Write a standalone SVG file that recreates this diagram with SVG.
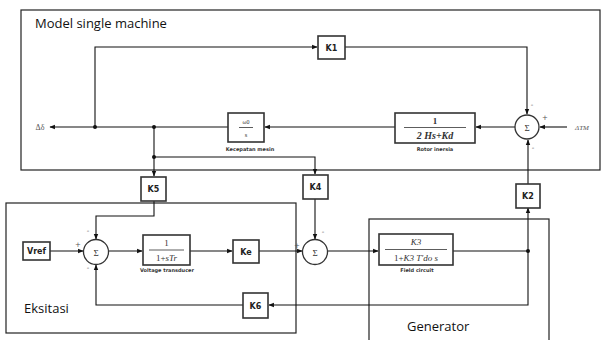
<svg xmlns="http://www.w3.org/2000/svg" width="603" height="340" viewBox="0 0 603 340">
<style>
.frame{fill:none;stroke:#222;stroke-width:1.2}
.blk{fill:#fff;stroke:#333;stroke-width:1.6}
.sum{fill:#fff;stroke:#333;stroke-width:1.3}
.ln{fill:none;stroke:#111;stroke-width:1.1}
.k{font-family:"DejaVu Sans",sans-serif;font-weight:bold;font-size:8px;fill:#222;text-anchor:middle}
.big{font-family:"Open Sans",sans-serif;font-size:13px;fill:#111}
.cap{font-family:"DejaVu Sans",sans-serif;font-weight:bold;font-size:5px;fill:#333;text-anchor:middle}
.math{font-family:"Liberation Serif",serif;font-style:italic;font-size:9px;fill:#333;text-anchor:middle}
.num{font-family:"Liberation Serif",serif;font-size:9px;fill:#333;text-anchor:middle}
.sig{font-family:"DejaVu Sans",sans-serif;font-size:7px;fill:#555;text-anchor:middle}
.fr{stroke:#333;stroke-width:0.8}
.dot{fill:#111}
</style>
<defs>
<marker id="ah" viewBox="0 0 10 10" refX="9" refY="5" markerWidth="5" markerHeight="5" orient="auto">
<path d="M0,1 L10,5 L0,9 z" fill="#111"/>
</marker>
</defs>

<g id="frame-model">
<rect class="frame" x="21" y="10" width="579" height="160"/>
<text class="big" x="35" y="28">Model single machine</text>
</g>
<g id="frame-eksitasi">
<rect class="frame" x="6" y="203" width="290" height="130"/>
<text class="big" x="24" y="313">Eksitasi</text>
</g>
<g id="frame-generator">
<rect class="frame" x="369" y="219" width="180" height="125"/>
<text class="big" x="407" y="331">Generator</text>
</g>

<g id="connectors">
<path class="ln" d="M395,127 H265" marker-end="url(#ah)"/>
<path class="ln" d="M515,127 H476" marker-end="url(#ah)"/>
<path class="ln" d="M567,127 H540" marker-end="url(#ah)"/>
<path class="ln" d="M228,127 H50" marker-end="url(#ah)"/>
<path class="ln" d="M95,127 V47 H317" marker-end="url(#ah)"/>
<path class="ln" d="M345,47 H527 V114" marker-end="url(#ah)"/>
<path class="ln" d="M154,127 V176" marker-end="url(#ah)"/>
<path class="ln" d="M154,157 H315 V174" marker-end="url(#ah)"/>
<path class="ln" d="M154,201 V216 H96 V239" marker-end="url(#ah)"/>
<path class="ln" d="M315,199 V239" marker-end="url(#ah)"/>
<path class="ln" d="M50,251 H83" marker-end="url(#ah)"/>
<path class="ln" d="M109,251 H142" marker-end="url(#ah)"/>
<path class="ln" d="M190,251 H232" marker-end="url(#ah)"/>
<path class="ln" d="M259,251 H302" marker-end="url(#ah)"/>
<path class="ln" d="M328,251 H378" marker-end="url(#ah)"/>
<path class="ln" d="M453,251 H528"/>
<path class="ln" d="M528,251 V208" marker-end="url(#ah)"/>
<path class="ln" d="M528,184 V140" marker-end="url(#ah)"/>
<path class="ln" d="M528,251 V305 H269" marker-end="url(#ah)"/>
<path class="ln" d="M243,305 H96 V265" marker-end="url(#ah)"/>
<circle class="dot" cx="95" cy="127" r="2"/>
<circle class="dot" cx="154" cy="127" r="2"/>
<circle class="dot" cx="154" cy="157" r="2"/>
<circle class="dot" cx="528" cy="251" r="2"/>
</g>

<g id="delta-delta">
<text class="num" x="40" y="130" style="font-size:8px;fill:#555">Δδ</text>
</g>
<g id="delta-tm">
<text class="math" x="582" y="130" style="font-size:7px;fill:#555">ΔTM</text>
</g>

<g id="K1">
<rect class="blk" x="318" y="36" width="27" height="23"/>
<text class="k" x="331.5" y="50.5">K1</text>
</g>

<g id="omega-block">
<rect class="blk" x="228" y="113" width="36" height="29"/>
<text class="num" x="246" y="124" style="font-size:6px">ω0</text>
<line class="fr" x1="239" y1="127.5" x2="253" y2="127.5"/>
<text class="num" x="246" y="137" style="font-size:6.5px">s</text>
<text class="cap" x="250" y="151">Kecepatan mesin</text>
</g>

<g id="rotor-block">
<rect class="blk" x="395" y="113" width="80" height="30"/>
<text class="num" x="435" y="124" style="font-weight:bold">1</text>
<line class="fr" x1="404" y1="127.5" x2="466" y2="127.5"/>
<text class="math" x="435" y="139" style="font-size:10px;font-weight:bold">2 Hs+Kd</text>
<text class="cap" x="435" y="151">Rotor inersia</text>
</g>

<g id="sum-top">
<circle class="sum" cx="527" cy="127" r="12"/>
<text class="num" x="527" y="130.5" style="font-style:normal;font-size:9px">Σ</text>
<text class="sig" x="532" y="107">-</text>
<text class="sig" x="545" y="120">+</text>
<text class="sig" x="533" y="150">-</text>
</g>

<g id="K5">
<rect class="blk" x="141" y="177" width="25" height="24"/>
<text class="k" x="153.5" y="192">K5</text>
</g>
<g id="K4">
<rect class="blk" x="303" y="175" width="25" height="24"/>
<text class="k" x="315.5" y="190">K4</text>
</g>
<g id="K2">
<rect class="blk" x="516" y="184" width="24" height="24"/>
<text class="k" x="528" y="199">K2</text>
</g>

<g id="Vref">
<rect class="blk" x="23" y="242" width="27" height="18"/>
<text class="k" x="36.5" y="254">Vref</text>
</g>

<g id="sum1">
<circle class="sum" cx="96" cy="252" r="12.5"/>
<text class="num" x="96" y="255.5" style="font-size:9px">Σ</text>
<text class="sig" x="88" y="233">-</text>
<text class="sig" x="78" y="247">+</text>
<text class="sig" x="88" y="270">-</text>
</g>

<g id="transducer">
<rect class="blk" x="143" y="235" width="47" height="30"/>
<text class="num" x="166.5" y="246">1</text>
<line class="fr" x1="149" y1="250" x2="184" y2="250"/>
<text class="math" x="166.5" y="261" style="font-style:normal">1+<tspan font-style="italic">sTr</tspan></text>
<text class="cap" x="167" y="272">Voltage transducer</text>
</g>

<g id="Ke">
<rect class="blk" x="233" y="240" width="26" height="23"/>
<text class="k" x="246" y="255">Ke</text>
</g>

<g id="sum2">
<circle class="sum" cx="315" cy="252" r="12.5"/>
<text class="num" x="315" y="255.5" style="font-size:9px">Σ</text>
<text class="sig" x="323" y="234">-</text>
<text class="sig" x="297" y="248">+</text>
</g>

<g id="field-circuit">
<rect class="blk" x="379" y="234" width="74" height="31"/>
<text class="math" x="416" y="245">K3</text>
<line class="fr" x1="385" y1="249.5" x2="447" y2="249.5"/>
<text class="math" x="416" y="261" style="font-style:normal">1+<tspan font-style="italic">K3 T′do s</tspan></text>
<text class="cap" x="417" y="272">Field circuit</text>
</g>

<g id="K6">
<rect class="blk" x="243" y="293" width="25" height="25"/>
<text class="k" x="255.5" y="308.5">K6</text>
</g>
</svg>
